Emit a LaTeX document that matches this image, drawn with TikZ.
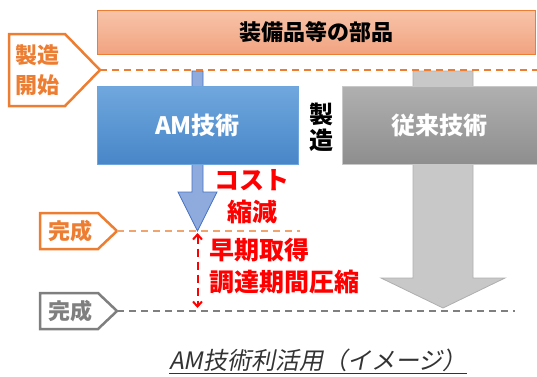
\documentclass[tikz,border=0pt]{standalone}
\usepackage{fontspec}
\setmainfont{Noto Sans CJK JP}
\newfontfamily\capfont[FakeSlant=0.2]{Noto Sans CJK JP}
\usetikzlibrary{positioning,arrows.meta}
\definecolor{signorange}{HTML}{ED7D31}
\definecolor{signgray}{HTML}{7F7F7F}
\definecolor{cutred}{HTML}{FF0000}
\definecolor{barblue}{RGB}{143,170,220}
\definecolor{barblueedge}{RGB}{68,114,196}
\definecolor{bargray}{RGB}{200,200,200}
\definecolor{bargrayedge}{RGB}{175,175,175}
\definecolor{amtop}{RGB}{112,168,222}
\definecolor{ambot}{RGB}{72,134,200}
\definecolor{amedge}{RGB}{110,165,220}
\definecolor{convtop}{RGB}{176,176,176}
\definecolor{convbot}{RGB}{142,142,142}
\definecolor{convedge}{RGB}{200,200,200}
\definecolor{parttop}{RGB}{248,196,170}
\definecolor{partbot}{RGB}{241,163,128}

\begin{document}
\begin{tikzpicture}[x=1pt,y=-1pt,>={Straight Barb[length=5pt,width=9pt]},
	partbar/.style={draw=signorange,line width=1pt,top color=parttop,bottom color=partbot,minimum width=438pt,minimum height=44pt,font=\fontsize{22}{26}\selectfont\bfseries},
	techbox/.style={draw=#1,line width=1pt,minimum height=78pt,text=white,font=\fontsize{24}{28}\selectfont\bfseries},
	signtext/.style={text=#1,align=center,font=\fontsize{22}{30}\selectfont\bfseries},
	signedge/.style={draw=#1,line width=2.5pt,fill=white,line join=miter},
	timeline/.style={draw=#1,line width=1.5pt,dash pattern=on 7pt off 5pt},
	redtext/.style={text=cutred,align=#1,font=\fontsize{25}{32}\selectfont\bfseries}]
	\useasboundingbox (0,0) rectangle (537,376);

	% block arrows behind the boxes
	\path[fill=barblue, draw=barblueedge, line width=.8pt]
		(192,71) -- (203,71) -- (203,192) -- (217,192) -- (197.5,231) -- (178,192) -- (192,192) -- cycle;
	\path[fill=bargray, draw=bargrayedge, line width=.8pt]
		(413,71) -- (473,71) -- (473,278) -- (505,278) -- (443,308) -- (381,278) -- (413,278) -- cycle;

	\node[partbar] (parts) at (316,32) {装備品等の部品};
	\node[techbox=amedge, top color=amtop, bottom color=ambot, minimum width=201pt] (am) at (197.5,125) {AM技術};
	\node[techbox=convedge, top color=convtop, bottom color=convbot, minimum width=195pt] (conv) at (439.5,125) {従来技術};
	\node[align=center,font=\fontsize{24}{26}\selectfont\bfseries] (make) at (321,127) {製\\造};

	% signs on the left
	\path[signedge=signorange] (9,34) -- (65,34) -- (100,70) -- (65,106) -- (9,106) -- cycle;
	\node[signtext=signorange] (start) at (37,70) {製造\\開始};
	\path[signedge=signorange] (40,213) -- (98,213) -- (117,231) -- (98,249) -- (40,249) -- cycle;
	\node[signtext=signorange] (amdone) at (70,231) {完成};
	\path[signedge=signgray] (40,293) -- (98,293) -- (117,311) -- (98,329) -- (40,329) -- cycle;
	\node[signtext=signgray] (convdone) at (70,311) {完成};

	\coordinate (starttip) at (100,70);
	\coordinate (startend) at (537,70);
	\coordinate (amtip) at (117,231);
	\coordinate (amend) at (300,231);
	\coordinate (convtip) at (117,311);
	\coordinate (convend) at (515,311);
	\draw[timeline=signorange] (starttip) -- (startend);
	\draw[timeline=signorange!70!white] (amtip) -- (amend);
	\draw[timeline=signgray] (convtip) -- (convend);

	% gain
	\coordinate (gaintop) at (197.5,233);
	\coordinate (gainbot) at (197.5,308);
	\draw[<->,draw=cutred,line width=2pt,dash pattern=on 8pt off 5pt] (gaintop) -- (gainbot);
	\node[redtext=center] (cost) at (252,197) {コスト\\縮減};
	\node[redtext=left,anchor=west] (lead) at (206,266) {早期取得\\調達期間圧縮};

	\node[text=black!80,font=\capfont\fontsize{24}{26}\selectfont] (caption) at (318,361) {\underline{AM技術利活用（イメージ）}};
\end{tikzpicture}
\end{document}
